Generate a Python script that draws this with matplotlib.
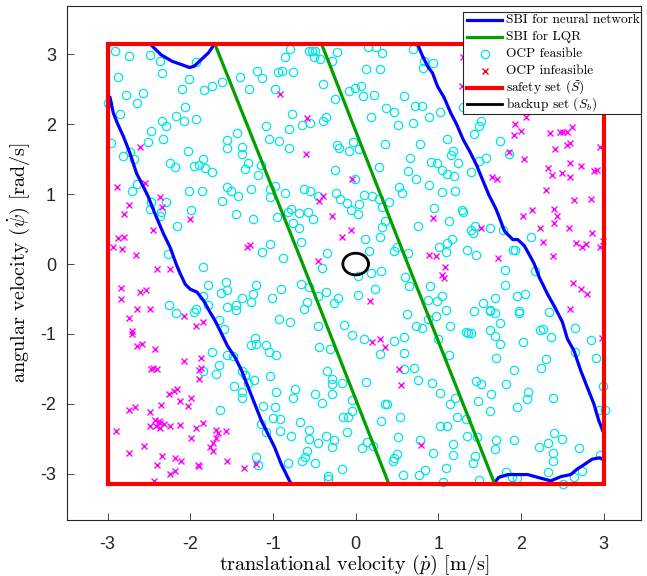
import numpy as np
import matplotlib
matplotlib.use("Agg")
import matplotlib.pyplot as plt
from matplotlib.lines import Line2D
from matplotlib.patches import Rectangle

plt.rcParams["mathtext.fontset"] = "cm"

# OCP sample points (translational velocity, angular velocity)
feasible_pts = [
    (-2.91, 3.05), (-2.74, 2.97), (-2.49, 2.99), (-2.36, 2.90), (-2.34, 2.73), (-2.87, 2.67),
    (-2.01, 2.65), (-2.10, 2.51), (-1.83, 2.49), (-1.74, 2.55), (-1.62, 2.60), (-1.93, 2.89),
    (-2.78, 2.42), (-2.57, 2.44), (-2.64, 2.31), (-3.00, 2.30), (-2.85, 2.15), (-2.06, 2.24),
    (-2.17, 2.11), (-2.08, 2.05), (-1.93, 2.08), (-2.34, 2.05), (-2.29, 1.98), (-2.47, 1.90),
    (-2.51, 1.74), (-2.33, 1.79), (-2.96, 1.73), (-2.73, 1.60), (-2.81, 1.54), (-2.68, 1.50),
    (-2.03, 1.62), (-2.25, 1.45), (-2.18, 1.39), (-1.95, 1.40), (-1.89, 1.42), (-1.84, 1.50),
    (-1.82, 1.38), (-1.74, 1.31), (-1.56, 1.66), (-1.55, 1.78), (-2.64, 1.14), (-2.70, 1.05),
    (-2.01, 1.04), (-1.86, 1.05), (-1.56, 1.10), (-2.47, 0.89), (-2.29, 0.89), (-1.62, 0.90),
    (-2.49, 0.79), (-2.35, 0.74), (-2.36, 0.69), (-1.99, 0.77), (-2.16, 0.55), (-2.27, 0.15),
    (-0.79, 3.07), (-0.86, 2.96), (-0.57, 3.04), (-0.53, 3.05), (-0.49, 3.04), (-0.50, 2.96),
    (-0.43, 2.93), (-0.29, 2.91), (-0.23, 3.03), (-1.19, 2.76), (-1.13, 2.66), (-0.94, 2.74),
    (-0.89, 2.76), (-0.76, 2.75), (-1.40, 2.67), (-1.29, 2.50), (-0.97, 2.51), (-0.40, 2.58),
    (-0.25, 2.36), (-0.08, 2.48), (-0.01, 2.52), (-0.77, 2.14), (-1.09, 1.98), (-0.80, 1.93),
    (-0.65, 1.99), (-0.55, 2.01), (-0.39, 2.04), (-0.36, 2.10), (-1.43, 1.88), (-1.05, 1.79),
    (-0.93, 1.76), (-0.80, 1.66), (-1.38, 1.67), (-1.38, 1.57), (-0.23, 1.70), (-0.20, 1.66),
    (-0.08, 1.61), (-0.03, 1.75), (-1.30, 1.45), (-1.34, 1.36), (-1.15, 1.42), (-1.18, 1.27),
    (-0.25, 1.34), (-0.01, 1.22), (-1.51, 1.04), (-1.26, 1.08), (-1.42, 0.97), (-1.03, 1.07),
    (-0.98, 1.12), (-1.03, 0.96), (-0.85, 1.02), (-0.63, 1.07), (-0.55, 1.04), (-0.45, 0.98),
    (-0.24, 1.02), (-0.19, 0.93), (-0.11, 0.88), (-0.06, 0.78), (-1.45, 0.71), (-1.24, 0.65),
    (-0.95, 0.67), (-0.82, 0.75), (-0.78, 0.79), (-0.69, 0.73), (-0.58, 0.75), (-0.52, 0.64),
    (-0.76, 0.59), (-0.68, 0.52), (-0.66, 0.32), (-1.04, 0.29), (-1.13, 0.17), (-0.88, 0.08),
    (-0.35, 0.16),
    (0.15, 3.10), (0.24, 3.11), (0.32, 3.02), (0.69, 3.08), (0.12, 2.79), (0.30, 2.79),
    (0.07, 2.55), (0.09, 2.41), (0.22, 2.42), (0.59, 2.41), (0.37, 2.23), (0.46, 2.17),
    (0.72, 2.26), (0.80, 2.26), (0.19, 2.10), (0.51, 1.99), (0.69, 2.01), (0.89, 2.10),
    (1.02, 2.17), (0.83, 2.90), (0.93, 2.88), (0.82, 2.80), (0.04, 1.65), (0.35, 1.71),
    (0.78, 1.71), (1.11, 1.79), (1.18, 1.61), (1.15, 1.56), (0.66, 1.52), (0.28, 1.39),
    (0.91, 1.46), (0.98, 1.45), (1.24, 1.45), (0.63, 1.33), (1.04, 1.35), (1.11, 1.29),
    (1.19, 1.26), (0.73, 1.22), (0.89, 1.13), (1.39, 1.31), (0.53, 1.10), (0.56, 1.01),
    (1.05, 1.03), (1.20, 1.05), (1.49, 1.48), (1.43, 1.86), (1.49, 1.97), (1.52, 2.05),
    (1.30, 2.24), (0.10, 0.99), (0.20, 0.97), (0.28, 0.93), (0.40, 0.89), (0.32, 0.81),
    (0.04, 0.86), (0.03, 0.71), (0.95, 0.80), (1.28, 0.78), (1.30, 0.74), (0.36, 0.62),
    (0.32, 0.53), (0.75, 0.55), (1.13, 0.61), (0.11, 0.36), (0.29, 0.39), (0.50, 0.25),
    (0.46, 0.19), (0.16, 0.19), (1.01, 0.25), (1.10, 0.30), (1.17, 0.36), (1.09, 0.17),
    (1.35, 0.20), (1.45, 0.13), (1.39, 0.48), (1.42, 0.45), (1.44, 0.54), (0.63, 0.16),
    (1.74, 1.76), (1.86, 1.57), (1.57, 1.51), (1.63, 0.51), (1.78, 0.48), (2.12, 0.38),
    (1.90, 0.20), (1.93, 0.20),
    (-1.85, -0.04), (-1.57, -0.26), (-1.78, -0.30), (-1.63, -0.41), (-1.55, -0.37),
    (-1.85, -0.46), (-1.79, -0.59), (-1.55, -0.61), (-2.26, -0.59), (-2.17, -0.70),
    (-1.95, -0.69), (-1.93, -0.64), (-1.65, -0.80), (-1.59, -0.93), (-1.74, -1.26),
    (-1.55, -1.30), (-1.65, -1.45), (-1.69, -1.57), (-1.85, -1.53), (-1.64, -2.08),
    (-0.41, -0.06), (-0.66, -0.29), (-0.57, -0.33), (-0.90, -0.35), (-1.20, -0.30),
    (-1.24, -0.43), (-1.38, -0.49), (-1.27, -0.54), (-1.45, -0.58), (-1.45, -0.65),
    (-1.01, -0.48), (-0.62, -0.64), (-0.59, -0.54), (-0.45, -0.45), (-0.36, -0.40),
    (-0.26, -0.55), (-0.21, -0.48), (-0.93, -0.79), (-0.79, -0.83), (-0.46, -0.89),
    (-0.14, -0.87), (-0.05, -1.02), (-1.22, -1.06), (-1.21, -1.15), (-1.26, -1.16),
    (-1.09, -1.16), (-1.05, -1.26), (-0.96, -1.30), (-0.44, -1.18), (-0.31, -1.22),
    (-1.48, -1.32), (-1.38, -1.53), (-1.34, -1.59), (-1.30, -1.70), (-1.23, -1.66),
    (-1.04, -1.60), (-1.47, -1.74), (-1.37, -1.83), (-1.37, -1.92), (-0.96, -1.83),
    (-0.73, -1.79), (-0.76, -1.91), (-0.49, -1.86), (-0.41, -1.99), (-0.35, -1.53),
    (-0.28, -1.64), (-0.28, -1.71), (-0.29, -1.86), (-0.16, -1.70), (-0.05, -1.94),
    (-0.05, -2.10), (-1.12, -2.03), (-0.98, -2.05), (-1.00, -2.20), (-0.91, -2.21),
    (-0.67, -2.26), (-1.15, -2.29), (-1.09, -2.40), (-0.91, -2.39), (-0.78, -2.46),
    (-0.57, -2.38), (-0.56, -2.50), (-0.45, -2.56), (-0.36, -2.46), (-0.26, -2.51),
    (-0.29, -2.62), (-0.15, -2.19), (-0.09, -2.19), (-0.10, -2.40), (-0.59, -2.68),
    (-0.61, -2.76), (-0.65, -2.81), (-0.49, -2.84), (-0.82, -2.84), (-1.21, -2.76),
    (-1.18, -2.87), (-0.34, -3.03), (-0.34, -3.07), (-0.16, -2.93),
    (0.03, -0.17), (0.18, -0.13), (0.31, -0.10), (0.60, -0.19), (0.65, -0.32), (0.90, -0.32),
    (0.23, -0.35), (0.03, -0.44), (1.05, -0.45), (0.98, -0.53), (0.87, -0.51), (1.09, -0.66),
    (0.62, -0.72), (0.97, -0.74), (0.87, -0.78), (0.73, -0.89), (0.80, -0.92), (1.14, -0.89),
    (1.43, -0.67), (1.54, -0.55), (1.33, -0.97), (1.36, -0.99), (1.40, -0.99), (0.10, -1.07),
    (0.46, -1.10), (0.59, -1.04), (0.99, -1.07), (0.29, -1.29), (0.59, -1.27), (1.13, -1.30),
    (0.71, -1.48), (0.58, -1.50), (0.13, -1.69), (0.75, -1.66), (0.92, -1.70), (1.02, -1.85),
    (1.20, -1.91), (1.14, -2.00), (1.45, -1.67), (1.51, -1.71), (1.48, -1.96), (0.35, -2.00),
    (0.38, -2.00), (0.31, -2.24), (0.54, -2.18), (1.22, -2.19), (1.34, -2.21), (1.02, -2.32),
    (1.11, -2.32), (1.35, -2.46), (1.47, -2.48), (0.51, -2.48), (0.78, -2.51), (0.14, -2.54),
    (0.08, -2.63), (0.21, -2.60), (0.50, -2.71), (0.46, -2.78), (0.45, -2.82), (0.93, -2.70),
    (1.18, -2.57), (1.18, -2.73), (1.44, -2.75), (1.42, -2.84), (1.09, -2.92), (0.84, -2.94),
    (0.77, -3.02), (0.57, -3.01), (1.06, -3.12), (1.49, -3.09),
    (1.80, -0.08), (2.17, -0.10), (1.81, -0.30), (1.68, -0.49), (1.95, -0.45), (2.05, -0.43),
    (1.62, -0.65), (1.63, -0.67), (1.69, -0.70), (1.97, -0.67), (1.97, -0.70), (2.34, -0.69),
    (1.74, -0.84), (1.63, -0.94), (1.69, -1.03), (1.75, -1.15), (2.23, -0.94), (2.27, -0.93),
    (2.36, -1.04), (2.65, -0.92), (2.02, -1.12), (2.85, -1.09), (2.90, -1.35), (2.65, -1.26),
    (1.70, -1.34), (2.30, -1.36), (2.24, -1.49), (1.92, -1.51), (1.82, -1.71), (1.64, -1.86),
    (2.08, -1.83), (2.07, -1.93), (2.39, -1.91), (1.95, -2.05), (1.62, -2.10), (2.94, -2.08),
    (3.01, -2.08), (2.99, -1.74), (1.70, -2.52), (1.69, -2.64), (1.92, -2.52), (2.22, -2.61),
    (2.32, -2.56), (2.40, -2.41), (2.49, -2.50), (2.38, -2.70), (2.38, -2.81), (2.70, -2.63),
    (2.95, -2.73), (2.33, -2.98), (1.82, -2.98), (1.89, -3.05), (1.95, -3.06), (2.51, -3.14),
    (2.64, -3.05), (2.74, -2.96),
]

infeasible_pts = [
    (-2.61, 1.68), (-2.55, 1.16), (-2.88, 1.10), (-2.36, 0.96), (-2.74, 0.85), (-2.34, 0.82),
    (-2.80, 0.72), (-2.00, 0.64), (-2.45, 0.48), (-2.87, 0.37), (-2.80, 0.38), (-2.93, 0.25),
    (-2.82, 0.22), (-2.66, 0.13),
    (-0.91, 2.43), (-0.59, 2.09), (-0.60, 1.57), (-0.04, 1.22), (-0.39, 0.97), (-0.44, 0.90),
    (-0.28, 0.69), (-0.06, 0.49), (-0.17, 0.38), (-1.28, 0.27), (-1.31, 0.24), (-0.45, 0.04),
    (0.93, 0.66), (1.51, 0.52), (0.89, 0.13), (0.97, 0.11), (1.29, 2.54), (1.30, 2.96),
    (2.06, 2.10), (1.93, 2.00), (2.00, 1.90), (1.92, 1.85), (2.35, 1.88), (2.47, 1.89),
    (2.51, 1.89), (2.55, 1.89), (2.61, 1.96), (2.95, 1.68), (2.41, 1.65), (2.55, 1.70),
    (2.59, 1.73), (1.86, 1.60), (2.04, 1.50), (2.59, 1.45), (2.32, 1.38), (2.72, 1.40),
    (2.88, 1.33), (2.92, 1.35), (2.37, 1.28), (2.49, 1.30), (2.59, 1.24), (1.65, 1.24),
    (1.71, 1.21), (2.30, 1.06), (2.64, 0.91), (2.85, 0.93), (2.13, 0.77), (2.02, 0.69),
    (2.40, 0.79), (2.43, 0.68), (2.40, 0.59), (2.23, 0.51), (2.58, 0.51), (2.86, 0.44),
    (2.27, 0.31), (2.67, 0.30), (2.74, 0.25), (2.79, 0.29), (2.95, 0.25), (2.99, 0.33),
    (2.38, 0.11), (1.72, 0.08),
    (-2.40, -0.07), (-2.25, -0.07), (-2.84, -0.34), (-2.84, -0.50), (-2.61, -0.40),
    (-2.53, -0.37), (-2.64, -0.64), (-2.49, -0.64), (-2.74, -0.77), (-2.07, -0.75),
    (-2.71, -0.96), (-2.71, -1.00), (-1.93, -0.89), (-1.85, -0.83), (-2.64, -1.17),
    (-2.58, -1.14), (-2.43, -1.22), (-2.07, -1.39), (-1.87, -1.34), (-2.48, -1.50),
    (-2.45, -1.48), (-2.40, -1.50), (-1.90, -1.52), (-1.87, -1.48), (-1.89, -1.64),
    (-2.26, -1.86), (-2.20, -1.81), (-2.16, -1.79), (-1.99, -1.92), (-2.12, -1.96),
    (-2.35, -2.01), (-2.74, -2.09), (-2.67, -2.04), (-2.49, -2.12), (-2.03, -2.03),
    (-2.42, -2.23), (-2.38, -2.25), (-2.32, -2.29), (-2.36, -2.28), (-2.41, -2.32),
    (-2.49, -2.32), (-2.37, -2.35), (-2.24, -2.32), (-2.12, -2.30), (-1.93, -2.34),
    (-1.84, -2.28), (-2.90, -2.39), (-1.69, -2.37), (-1.67, -2.41), (-1.57, -2.39),
    (-1.99, -2.49), (-1.69, -2.49), (-1.72, -2.56), (-1.76, -2.62), (-1.72, -2.67),
    (-2.56, -2.60), (-2.74, -2.70), (-2.34, -2.75), (-2.19, -2.77), (-2.11, -2.81),
    (-2.40, -2.88), (-1.91, -2.87), (-1.90, -2.89), (-2.25, -3.00), (-2.19, -2.96),
    (-2.44, -3.10), (-1.55, -2.81), (-1.35, -2.92), (-1.20, -2.86),
    (1.08, -0.04), (1.04, -0.15), (1.07, -0.20), (0.17, -0.53), (0.20, -1.11), (0.30, -1.07),
    (0.36, -1.18), (0.52, -1.50), (0.55, -1.73), (0.79, -2.59),
    (2.63, -0.27), (2.72, -0.36), (2.80, -0.43), (2.59, -0.64), (2.98, -1.06),
]

# safe backward-invariant set boundaries, neural network controller
nn_left_p = [-2.97, -2.93, -2.88, -2.81, -2.73, -2.65, -2.59, -2.51, -2.43, -2.33, -2.24, -2.17,
             -2.12, -2.06, -2.00, -1.92, -1.84, -1.76, -1.70, -1.64, -1.55, -1.46, -1.38, -1.30,
             -1.22, -1.14, -1.06, -0.98, -0.90, -0.80, -0.78]
nn_left_psi = [2.38, 2.16, 2.01, 1.83, 1.59, 1.30, 1.16, 0.97, 0.73, 0.45, 0.23, 0.00,
               -0.14, -0.29, -0.36, -0.40, -0.52, -0.69, -0.81, -0.95, -1.17, -1.33, -1.52, -1.76,
               -2.00, -2.24, -2.43, -2.62, -2.86, -3.10, -3.14]
nn_top_p = [-2.48, -2.35, -2.22, -2.10, -2.01, -1.95, -1.88, -1.78, -1.71]
nn_top_psi = [3.14, 2.99, 2.90, 2.85, 2.81, 2.83, 2.91, 3.02, 3.14]
nn_right_p = [0.75, 0.81, 0.87, 0.93, 0.99, 1.07, 1.15, 1.22, 1.30, 1.38, 1.46, 1.55, 1.61,
              1.70, 1.80, 1.90, 1.96, 2.04, 2.12, 2.16, 2.22, 2.32, 2.40, 2.50, 2.56, 2.64,
              2.72, 2.80, 2.88, 2.94, 3.00]
nn_right_psi = [3.14, 2.97, 2.83, 2.73, 2.54, 2.38, 2.16, 2.00, 1.78, 1.61, 1.42, 1.16, 0.99,
                0.78, 0.47, 0.35, 0.35, 0.26, 0.09, 0.00, -0.19, -0.43, -0.60, -0.83, -1.07, -1.24,
                -1.52, -1.76, -2.00, -2.24, -2.42]
nn_bottom_p = [1.67, 1.73, 1.84, 1.96, 2.08, 2.20, 2.36, 2.48, 2.60, 2.68, 2.76, 2.86, 2.95, 3.00]
nn_bottom_psi = [-3.14, -3.05, -3.01, -3.01, -3.01, -3.05, -3.10, -3.04, -3.01, -2.93, -2.87,
                 -2.79, -2.77, -2.80]

# LQR boundaries
lqr_left_p = [-1.70, -0.64, 0.40]
lqr_left_psi = [3.14, 0.0, -3.14]
lqr_right_p = [-0.41, 0.63, 1.68]
lqr_right_psi = [3.14, 0.0, -3.14]

# safety set box and backup set
safe_p = [-3, 3, 3, -3, -3]
safe_psi = [-np.pi, -np.pi, np.pi, np.pi, -np.pi]
backup_center = (0.0, 0.0)
backup_radius = 0.155

W, H = 647, 576
fig = plt.figure(figsize=(W / 100, H / 100), dpi=100)
ax_l, ax_r, ax_t, ax_b = 67, 641, 6, 520
ax = fig.add_axes([ax_l / W, 1 - ax_b / H, (ax_r - ax_l) / W, (ax_b - ax_t) / H])

cyan = "#00e5e5"
fp = np.array(feasible_pts)
ip = np.array(infeasible_pts)
ax.plot(fp[:, 0], fp[:, 1], "o", ls="none", ms=6, mfc="none", mec=cyan, mew=0.9, zorder=2)
ax.plot(ip[:, 0], ip[:, 1], "x", ls="none", ms=4, mec="#ff00ff", mew=1.0, zorder=2)

blue = "#0000ff"
for px, py in [(nn_left_p, nn_left_psi), (nn_top_p, nn_top_psi),
               (nn_right_p, nn_right_psi), (nn_bottom_p, nn_bottom_psi)]:
    ax.plot(px, py, color=blue, lw=2.3, zorder=3)
green = "#00a000"
ax.plot(lqr_left_p, lqr_left_psi, color=green, lw=2.3, zorder=3)
ax.plot(lqr_right_p, lqr_right_psi, color=green, lw=2.3, zorder=3)
ax.plot(safe_p, safe_psi, color="#ff0000", lw=3.0, zorder=4, solid_joinstyle="miter")
t = np.linspace(0, 2 * np.pi, 100)
ax.plot(backup_center[0] + backup_radius * np.cos(t),
        backup_center[1] + backup_radius * np.sin(t), color="black", lw=2.0, zorder=4)

ax.set_xlim(-3.49, 3.45)
ax.set_ylim(-3.66, 3.69)
ticks = [-3, -2, -1, 0, 1, 2, 3]
ax.set_xticks(ticks)
ax.set_yticks(ticks)
ax.set_xticklabels([str(v) for v in ticks], fontfamily="Liberation Sans", fontsize=13)
ax.set_yticklabels([str(v) for v in ticks], fontfamily="Liberation Sans", fontsize=13)
ax.tick_params(axis="x", pad=11.5)
ax.tick_params(axis="y", pad=8)
ax.tick_params(direction="in", length=5, width=0.6, colors="#262626", top=False, right=False)
for s in ax.spines.values():
    s.set_color("#262626")
    s.set_linewidth(0.8)

ax.set_xlabel(r"translational velocity ($\dot{p}$) [m/s]", fontfamily="cmr10", fontsize=14.5)
ax.xaxis.set_label_coords(0.5, (ax_b - 552.5) / (ax_b - ax_t))
ax.set_ylabel(r"angular velocity ($\dot{\psi}$) [rad/s]", fontfamily="cmr10", fontsize=14.5,
              labelpad=6)

# legend box drawn by hand (MATLAB-like fixed row spacing)
def fx(x):
    return x / W


def fy(y):
    return 1 - y / H


leg_l, leg_r, leg_t, leg_b = 463, 641, 12, 114
fig.patches.append(Rectangle((fx(leg_l), fy(leg_b)), fx(leg_r - leg_l), (leg_b - leg_t) / H,
                             transform=fig.transFigure, facecolor="white",
                             edgecolor="#262626", lw=0.8, zorder=10))
rows = [20, 37, 54, 70.5, 87.5, 104]
labels = ["SBI for neural network", "SBI for LQR", "OCP feasible", "OCP infeasible",
          r"safety set ($\widetilde{S}$)", r"backup set ($S_b$)"]
styles = [dict(color=blue, lw=2.3), dict(color=green, lw=2.3),
          dict(ls="none", marker="o", ms=6, mfc="none", mec=cyan, mew=0.9),
          dict(ls="none", marker="x", ms=4, mec="#ff0000", mew=1.0),
          dict(color="#ff0000", lw=3.0), dict(color="black", lw=2.0)]
for yy, lab, st in zip(rows, labels, styles):
    if st.get("ls") == "none":
        hx, hy = [fx(484.5)], [fy(yy)]
    else:
        hx, hy = [fx(467), fx(502)], [fy(yy), fy(yy)]
    fig.lines.append(Line2D(hx, hy, transform=fig.transFigure, zorder=11, **st))
    fig.text(fx(506), fy(yy), lab, fontfamily="cmr10", fontsize=9.6, va="center", ha="left",
             zorder=12)

fig.savefig("out.png", dpi=100)
